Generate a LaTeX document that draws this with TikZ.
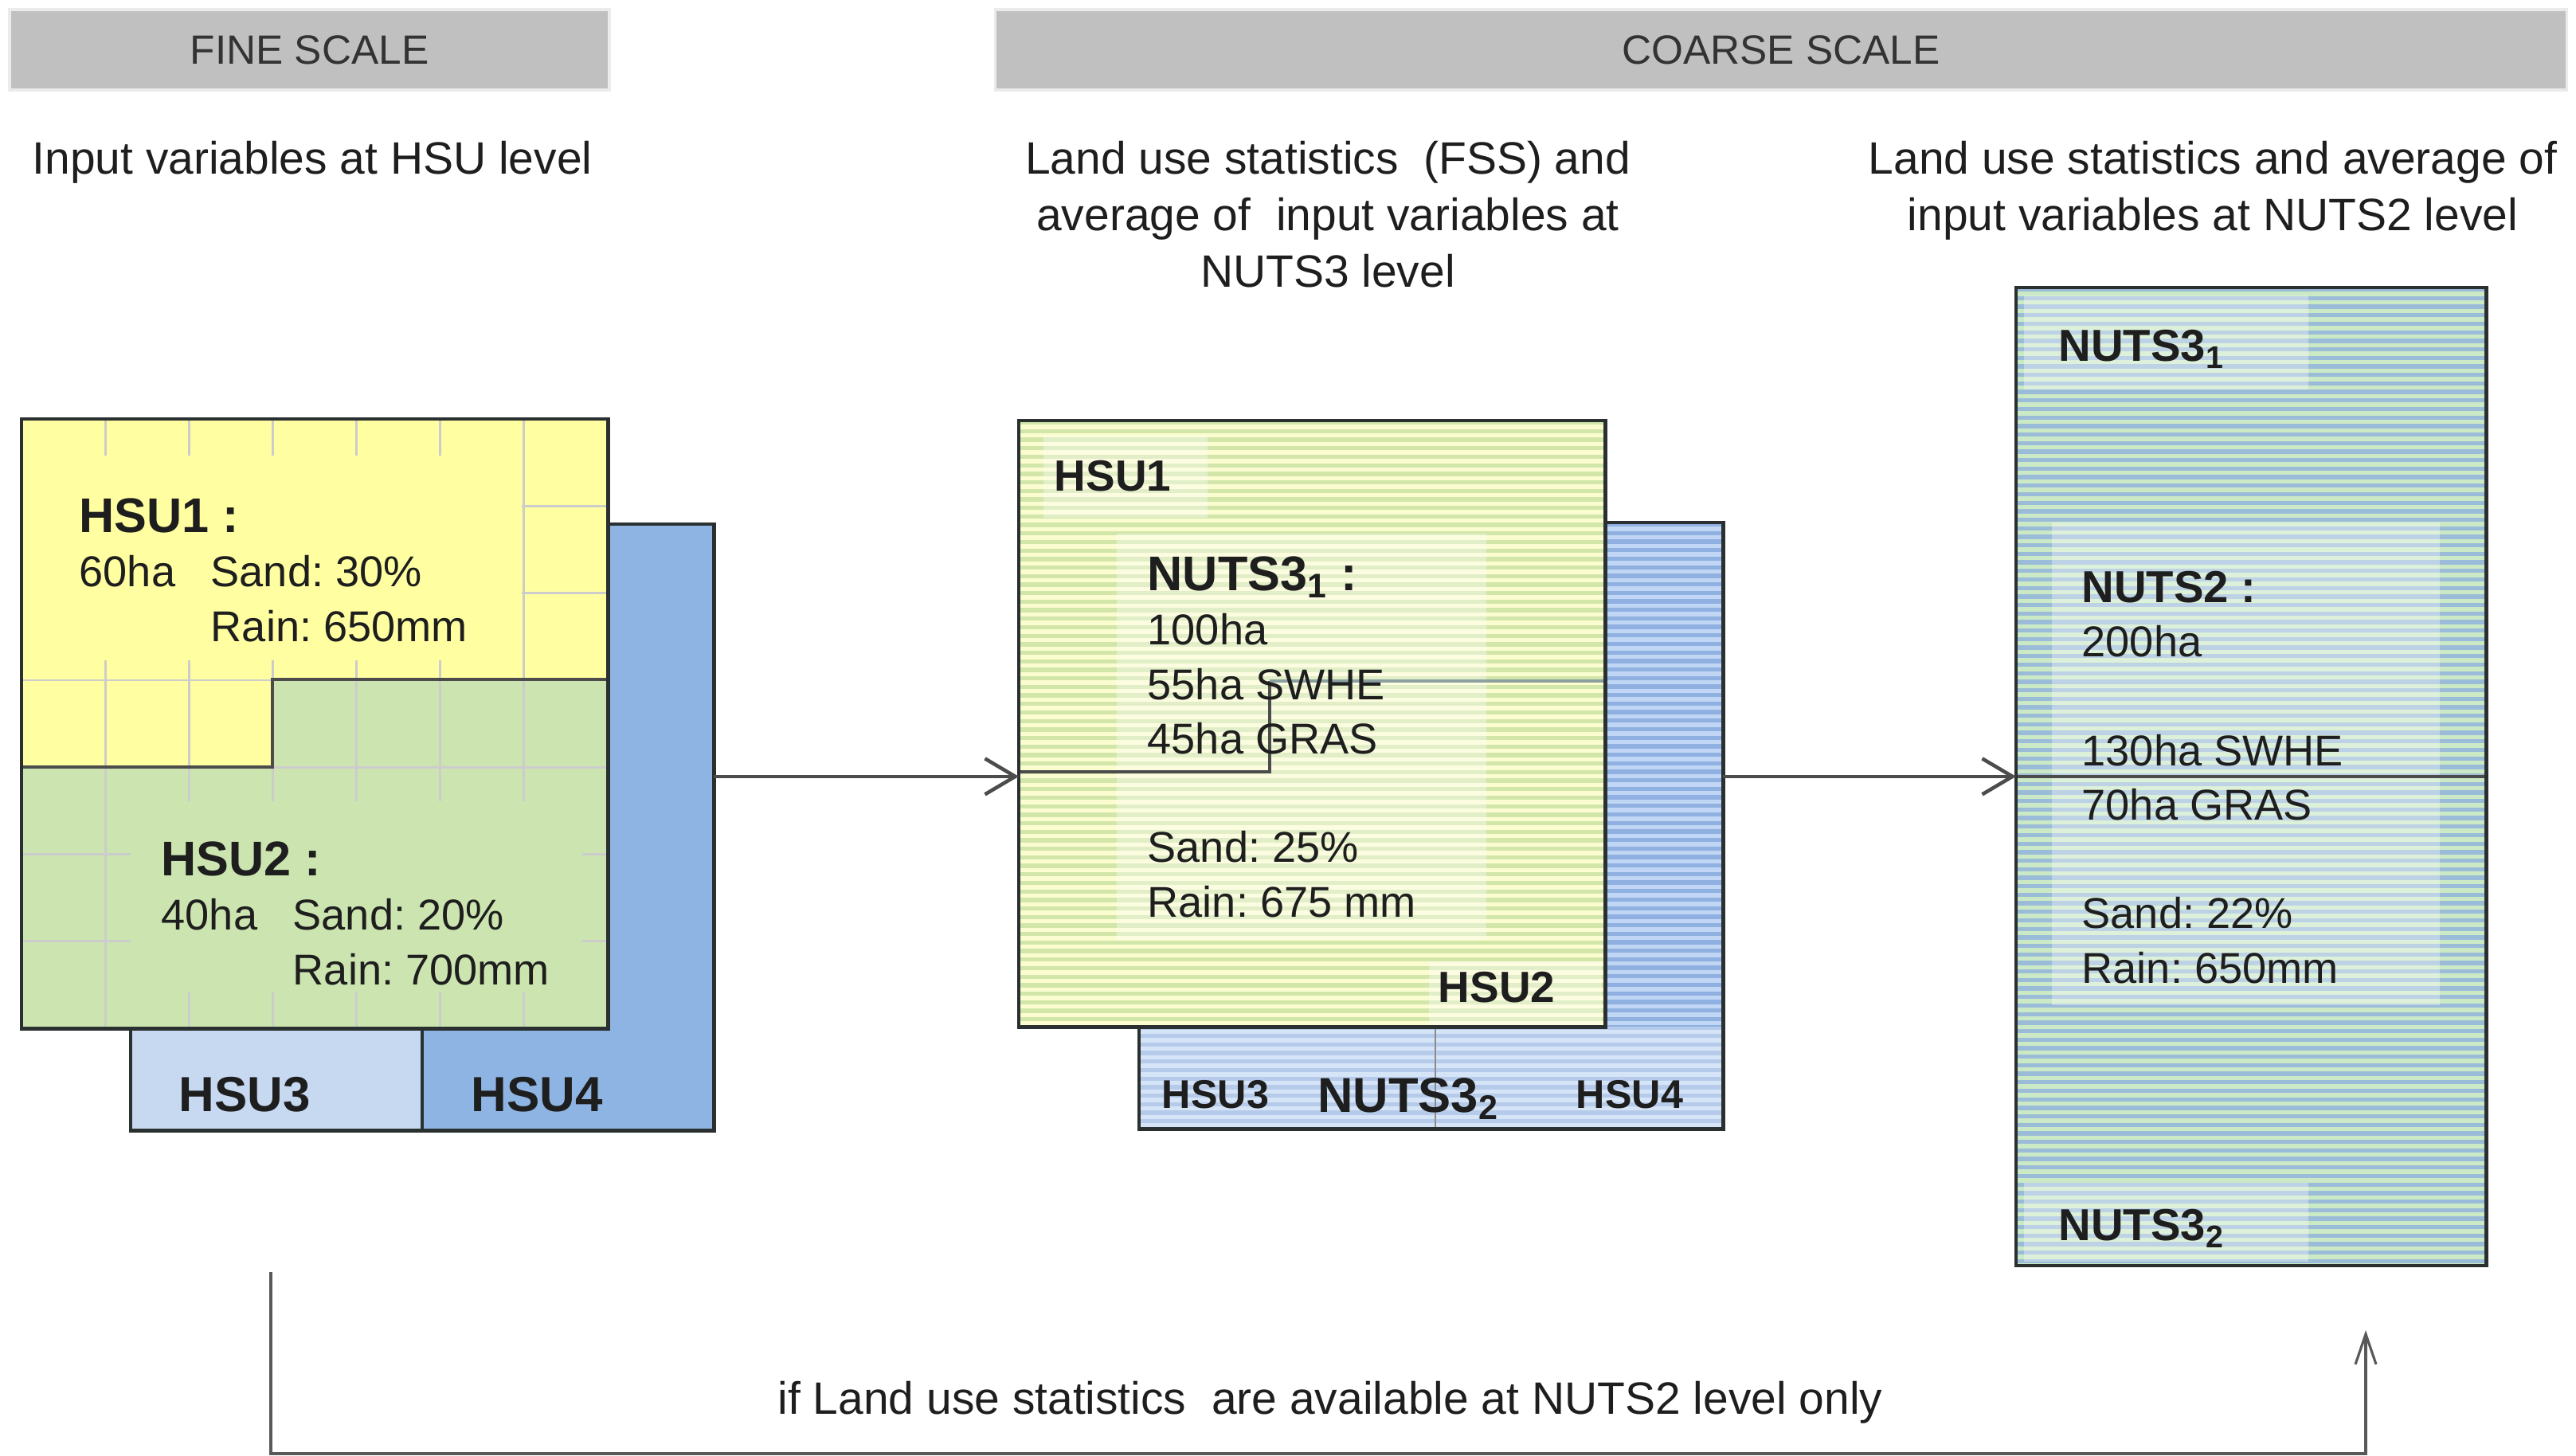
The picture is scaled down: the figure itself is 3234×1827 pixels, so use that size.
\documentclass[tikz,border=0pt]{standalone}
\usepackage{fontspec}
\setmainfont{Liberation Sans}
\usepackage{xcolor}
\usetikzlibrary{arrows.meta, positioning}
\frenchspacing

\definecolor{barfill}{HTML}{C0C0C0}
\definecolor{inktext}{HTML}{1E1E1E}
\definecolor{edge}{HTML}{2A2F2F}
\definecolor{hsuyellow}{HTML}{FFFFA2}
\definecolor{hsugreen}{HTML}{CCE5B0}
\definecolor{hsublue}{HTML}{8DB4E2}
\definecolor{hsulight}{HTML}{C6D9F1}
\definecolor{paleyellow}{HTML}{FBFDD0}
\definecolor{stripegreen}{HTML}{D2E6AA}
\definecolor{paleblue}{HTML}{C0D6F4}
\definecolor{stripeblue}{HTML}{8FB0E0}
\definecolor{nutsgreen}{HTML}{CCE9C6}
\definecolor{nutsblue}{HTML}{9BBCD8}

\newcommand{\headsize}{\fontsize{14.6}{17}\selectfont}
\newcommand{\descsize}{\fontsize{16.2}{20.1}\selectfont}
\newcommand{\bodysize}{\fontsize{15.4}{19.4}\selectfont}
\newcommand{\labsize}{\fontsize{17.4}{19.4}\selectfont\bfseries}

\begin{document}
\begin{tikzpicture}[
    x=0.01cm, y=-0.01cm,
    scalebar/.style={fill=barfill, draw=black!8, line width=1pt, minimum height=1.01cm, font=\headsize, text=black!80},
    desc/.style={align=center, inner sep=0, font=\descsize, text=inktext},
    sheet/.style={anchor=north west, inner sep=0, outer sep=0},
    rim/.style={draw=edge, line width=1.2pt},
    seam/.style={draw=black!70, line width=1pt},
    txt/.style={anchor=base west, align=left, inner sep=0, font=\bodysize, text=inktext},
    hsutag/.style={inner sep=0, text=inktext, font=\fontsize{#1}{#1}\selectfont\bfseries},
    veil/.style={fill=white, fill opacity=0.35},
    flow/.style={line width=1.3pt, draw=black!70, -{Straight Barb[length=0.38cm, width=0.45cm]}},
    fallflow/.style={line width=0.9pt, draw=black!65, -{Straight Barb[length=0.38cm, width=0.26cm]}},
]
    \useasboundingbox (0,0) rectangle (3234,1827);

    % Scale headers
    \node[scalebar, minimum width=7.53cm] (fine) at (388.5,62.5) {FINE SCALE};
    \node[scalebar, minimum width=19.72cm] (coarse) at (2236,62.5) {COARSE SCALE};

    % (base anchor of a multi-line node = its last line)
    \node[desc, anchor=base] (finedesc) at (392,218) {Input variables at HSU level};
    \node[desc, anchor=base] (nutsthreedesc) at (1667,360) {Land use statistics\ \ (FSS) and\\ average of\ \ input variables at\\ NUTS3 level};
    \node[desc, anchor=base] (nutstwodesc) at (2778,289) {Land use statistics and average of\\ input variables at NUTS2 level};

    % Fine scale: HSU map
    \node[sheet, fill=hsublue, minimum width=7.32cm, minimum height=7.61cm] (fineback) at (164,658) {};
    \node[sheet, fill=hsulight, minimum width=3.66cm, minimum height=1.28cm] (hsuthree) at (164,1291) {};
    \draw[rim] (fineback.north west) rectangle (fineback.south east);
    \draw[rim] (hsuthree.north east) -- (hsuthree.south east);

    \node[sheet, fill=hsugreen, minimum width=7.36cm, minimum height=7.65cm] (finesq) at (27,526) {};
    \fill[hsuyellow] (27,526) -- (763,526) -- (763,853) -- (342,853) -- (342,963) -- (27,963) -- cycle;
    \foreach \i in {1,...,6} {
        \draw[black!20, line width=0.8pt] (27+105.14*\i,526) -- (27+105.14*\i,1291);
        \draw[black!20, line width=0.8pt] (27,526+109.3*\i) -- (763,526+109.3*\i);
    }
    \fill[hsuyellow] (29,572) rectangle (655,829);
    \fill[hsugreen] (164,1006) rectangle (731,1245);
    \draw[seam] (27,963) -- (342,963) -- (342,853) -- (763,853);
    \draw[rim] (finesq.north west) rectangle (finesq.south east);

    \node[txt] (hsuonetxt) at (99,805) {{\labsize HSU1 :}\\ \makebox[1.65cm][l]{60ha}Sand: 30\%\\ \hspace*{1.65cm}Rain: 650mm};
    \node[txt] (hsutwotxt) at (202,1236) {{\labsize HSU2 :}\\ \makebox[1.65cm][l]{40ha}Sand: 20\%\\ \hspace*{1.65cm}Rain: 700mm};
    \node[hsutag=17.6] (hsuthreetag) at (307,1374) {HSU3};
    \node[hsutag=17.6] (hsufourtag) at (674,1374) {HSU4};

    % Coarse scale: NUTS3 regions
    \node[sheet, fill=paleblue, minimum width=7.33cm, minimum height=7.61cm] (midback) at (1430,656) {};
    \begin{scope}
        \clip (midback.north west) rectangle (midback.south east);
        \foreach \s in {656,666.7,...,1425}
            \fill[stripeblue] (1430,\s) rectangle (2163,\s+5.3);
    \end{scope}
    \fill[veil] (1430,1289) rectangle (2163,1417);
    \draw[black!45, line width=0.8pt] (1802,1289) -- (1802,1417);
    \draw[rim] (midback.north west) rectangle (midback.south east);

    \node[sheet, fill=paleyellow, minimum width=7.36cm, minimum height=7.61cm] (midsq) at (1279,528) {};
    \begin{scope}
        \clip (midsq.north west) rectangle (midsq.south east);
        \foreach \s in {528,538.7,...,1295}
            \fill[stripegreen] (1279,\s) rectangle (2015,\s+5.3);
    \end{scope}
    \fill[veil] (1310,547) rectangle (1516,650);
    \fill[veil] (1402,670) rectangle (1866,1180);
    \fill[veil] (1794,1207) rectangle (2011,1289);
    \draw[seam] (1279,969) -| (1594,855);
    \draw[seam, draw=teal!35!black!45] (1594,855) -- (2015,855);
    \draw[rim] (midsq.north west) rectangle (midsq.south east);

    \node[hsutag=15.6] (midonetag) at (1397,598) {HSU1};
    \node[txt] (nutsonetxt) at (1440,1151) {{\labsize NUTS3\textsubscript{1} :}\\ 100ha\\ 55ha SWHE\\ 45ha GRAS\\[19.4pt] Sand: 25\%\\ Rain: 675 mm};
    \node[hsutag=15.6] (midtwotag) at (1879,1240) {HSU2};
    \node[hsutag=14.3] (midthreetag) at (1526,1374) {HSU3};
    \node[hsutag=17.5, anchor=base] (midnutstag) at (1768,1396) {NUTS3\textsubscript{2}};
    \node[hsutag=14.3] (midfourtag) at (2046,1374) {HSU4};

    % Coarse scale: NUTS2 region
    \node[sheet, fill=nutsgreen, minimum width=5.90cm, minimum height=12.27cm] (nutstwo) at (2531,361) {};
    \begin{scope}
        \clip (nutstwo.north west) rectangle (nutstwo.south east);
        \foreach \s in {361,371.7,...,1595}
            \fill[nutsblue] (2531,\s) rectangle (3121,\s+5.3);
    \end{scope}
    \fill[veil] (2541,371) rectangle (2898,489);
    \fill[veil] (2541,1485) rectangle (2898,1584);
    \fill[veil] (2576,656) rectangle (3063,1262);
    \draw[seam] (nutstwo.west) -- (nutstwo.east);
    \draw[rim] (nutstwo.north west) rectangle (nutstwo.south east);

    \node[hsutag=16, anchor=base west] (rightonetag) at (2584,453) {NUTS3\textsubscript{1}};
    \node[txt] (nutstwotxt) at (2613,1234) {{\fontsize{16}{19.4}\selectfont\bfseries NUTS2 :}\\ 200ha\\[19.4pt] 130ha SWHE\\ 70ha GRAS\\[19.4pt] Sand: 22\%\\ Rain: 650mm};
    \node[hsutag=16, anchor=base west] (righttwotag) at (2584,1557) {NUTS3\textsubscript{2}};

    % Arrows between scales
    \draw[flow] (fineback.east |- nutstwo.west) -- (midsq.west |- nutstwo.west);
    \draw[flow] (midback.east |- nutstwo.west) -- (nutstwo.west);

    \coordinate (fallstart) at (340,1597);
    \coordinate (fallbase) at (1670,1825);
    \coordinate (fallend) at (2970,1670);
    \draw[fallflow] (fallstart) |- (fallbase) -| (fallend);
    \node[desc, anchor=base] (fallnote) at (1670,1775) {if Land use statistics\ \ are available at NUTS2 level only};
\end{tikzpicture}
\end{document}
